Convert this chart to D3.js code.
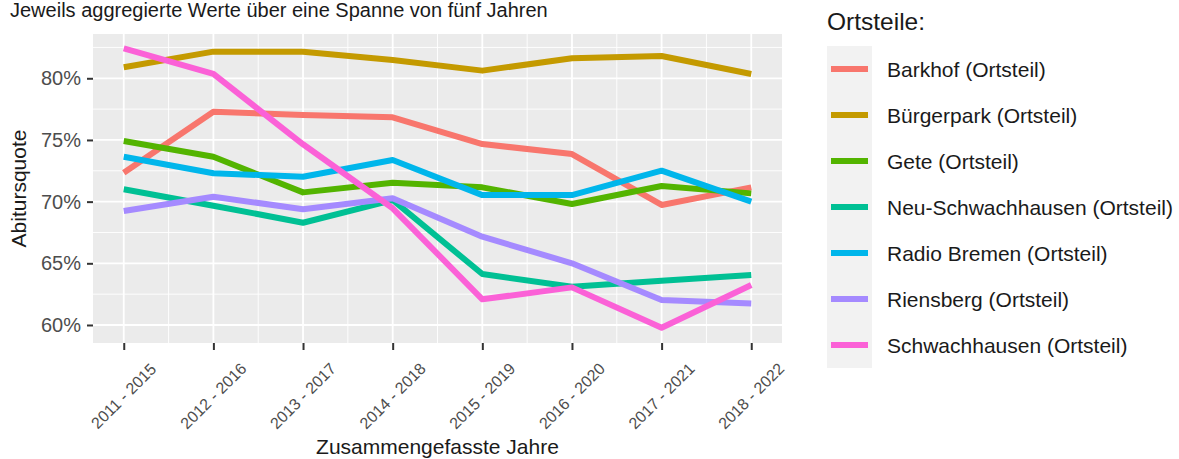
<!DOCTYPE html>
<html>
<head>
<meta charset="utf-8">
<script src="https://cdn.jsdelivr.net/npm/d3@7"></script>
<style>
  body { margin: 0; background: #fff; }
  svg { display: block; font-family: "Liberation Sans", Arial, sans-serif; }
</style>
</head>
<body>
<div id="chart"></div>
<script>
// Daten
const periods = ["2011 - 2015", "2012 - 2016", "2013 - 2017", "2014 - 2018",
                 "2015 - 2019", "2016 - 2020", "2017 - 2021", "2018 - 2022"];

const districts = ["Barkhof (Ortsteil)", "Bürgerpark (Ortsteil)", "Gete (Ortsteil)",
                   "Neu-Schwachhausen (Ortsteil)", "Radio Bremen (Ortsteil)",
                   "Riensberg (Ortsteil)", "Schwachhausen (Ortsteil)"];

const colors = ["#F8766D", "#C49A00", "#53B400", "#00C094", "#00B6EB", "#A58AFF", "#FB61D7"];

const barkhof        = [72.35, 77.29, 77.02, 76.84, 74.67, 73.86, 69.73, 71.16];
const buergerpark    = [80.89, 82.16, 82.16, 81.48, 80.62, 81.62, 81.81, 80.35];
const gete           = [74.92, 73.64, 70.75, 71.53, 71.16, 69.81, 71.27, 70.67];
const neuSchwach     = [71.00, 69.67, 68.29, 70.13, 64.13, 63.10, 63.59, 64.05];
const radioBremen    = [73.64, 72.30, 72.02, 73.37, 70.53, 70.53, 72.51, 70.00];
const riensberg      = [69.24, 70.40, 69.38, 70.27, 67.16, 65.00, 62.02, 61.75];
const schwachhausen  = [82.43, 80.35, 74.65, 69.46, 62.08, 63.05, 59.78, 63.24];

const seriesValues = [barkhof, buergerpark, gete, neuSchwach, radioBremen, riensberg, schwachhausen];

const yTicks = [60, 65, 70, 75, 80];
const yMinor = [62.5, 67.5, 72.5, 77.5, 82.5];

const titleText = "Jeweils aggregierte Werte über eine Spanne von fünf Jahren";
const xTitle = "Zusammengefasste Jahre";
const yTitle = "Abitursquote";
const legendTitle = "Ortsteile:";

// Layout
const width = 1179, height = 459;
const panel = {left: 93, right: 782, top: 34, bottom: 343};

const svg = d3.select("#chart").append("svg")
    .attr("width", width)
    .attr("height", height);

const x = d3.scalePoint()
    .domain(periods)
    .range([panel.left, panel.right])
    .padding(0.343);

const y = d3.scaleLinear()
    .domain([58.54, 83.59])
    .range([panel.bottom, panel.top]);

// Panel
svg.append("rect")
    .attr("x", panel.left)
    .attr("y", panel.top)
    .attr("width", panel.right - panel.left)
    .attr("height", panel.bottom - panel.top)
    .attr("fill", "#EBEBEB");

const grid = svg.append("g");

// minor grid
const xMid = d3.pairs(periods).map(([a, b]) => (x(a) + x(b)) / 2);
grid.selectAll(".vminor").data(xMid).join("line")
    .attr("x1", d => d).attr("x2", d => d)
    .attr("y1", panel.top).attr("y2", panel.bottom)
    .attr("stroke", "#fff").attr("stroke-width", 0.9);

grid.selectAll(".hminor").data(yMinor).join("line")
    .attr("x1", panel.left).attr("x2", panel.right)
    .attr("y1", d => y(d)).attr("y2", d => y(d))
    .attr("stroke", "#fff").attr("stroke-width", 0.9);

// major grid
grid.selectAll(".vmajor").data(periods).join("line")
    .attr("x1", d => x(d)).attr("x2", d => x(d))
    .attr("y1", panel.top).attr("y2", panel.bottom)
    .attr("stroke", "#fff").attr("stroke-width", 1.8);

grid.selectAll(".hmajor").data(yTicks).join("line")
    .attr("x1", panel.left).attr("x2", panel.right)
    .attr("y1", d => y(d)).attr("y2", d => y(d))
    .attr("stroke", "#fff").attr("stroke-width", 1.8);

// Linien
const line = d3.line()
    .x((d, i) => x(periods[i]))
    .y(d => y(d));

svg.append("g")
    .selectAll("path")
    .data(seriesValues)
    .join("path")
    .attr("d", line)
    .attr("fill", "none")
    .attr("stroke", (d, i) => colors[i])
    .attr("stroke-width", 6)
    .attr("stroke-linejoin", "round");

// Achsen
const yAxis = svg.append("g")
    .attr("transform", `translate(${panel.left},0)`)
    .call(d3.axisLeft(y).tickValues(yTicks).tickSize(6).tickPadding(6).tickFormat(d => d + "%"));
yAxis.select(".domain").remove();
yAxis.selectAll(".tick line").attr("stroke", "#333").attr("stroke-width", 2);
yAxis.selectAll(".tick text")
    .attr("fill", "#4D4D4D")
    .attr("font-size", 20)
    .attr("font-family", "Liberation Sans, Arial, sans-serif");

const xAxis = svg.append("g")
    .attr("transform", `translate(0,${panel.bottom})`)
    .call(d3.axisBottom(x).tickSize(7).tickFormat(""));
xAxis.select(".domain").remove();
xAxis.selectAll(".tick line").attr("stroke", "#333").attr("stroke-width", 2);

svg.append("g")
    .selectAll("text")
    .data(periods)
    .join("text")
    .attr("transform", d => `translate(${x(d)},396) rotate(-45)`)
    .attr("text-anchor", "middle")
    .attr("dominant-baseline", "central")
    .attr("fill", "#4D4D4D")
    .attr("font-size", 16)
    .text(d => d);

// Titel
svg.append("text")
    .attr("x", 10)
    .attr("y", 17)
    .attr("font-size", 20)
    .attr("fill", "#1A1A1A")
    .text(titleText);

svg.append("text")
    .attr("x", (panel.left + panel.right) / 2)
    .attr("y", 454)
    .attr("text-anchor", "middle")
    .attr("font-size", 21)
    .attr("fill", "#1A1A1A")
    .text(xTitle);

svg.append("text")
    .attr("transform", `translate(18,${(panel.top + panel.bottom) / 2}) rotate(-90)`)
    .attr("text-anchor", "middle")
    .attr("dominant-baseline", "central")
    .attr("font-size", 21)
    .attr("fill", "#1A1A1A")
    .text(yTitle);

// Legende
const legend = svg.append("g").attr("transform", "translate(827,0)");

legend.append("text")
    .attr("x", 0)
    .attr("y", 30)
    .attr("font-size", 24.5)
    .attr("fill", "#1A1A1A")
    .text(legendTitle);

const keyH = 46;
const keys = legend.selectAll(".key")
    .data(districts)
    .join("g")
    .attr("transform", (d, i) => `translate(0,${46 + i * keyH})`);

keys.append("rect")
    .attr("width", 45)
    .attr("height", keyH)
    .attr("fill", "#F2F2F2");

keys.append("line")
    .attr("x1", 4).attr("x2", 41)
    .attr("y1", keyH / 2).attr("y2", keyH / 2)
    .attr("stroke", (d, i) => colors[i])
    .attr("stroke-width", 6);

keys.append("text")
    .attr("x", 60)
    .attr("y", keyH / 2)
    .attr("dominant-baseline", "central")
    .attr("font-size", 21)
    .attr("fill", "#1A1A1A")
    .text(d => d);
</script>
</body>
</html>
